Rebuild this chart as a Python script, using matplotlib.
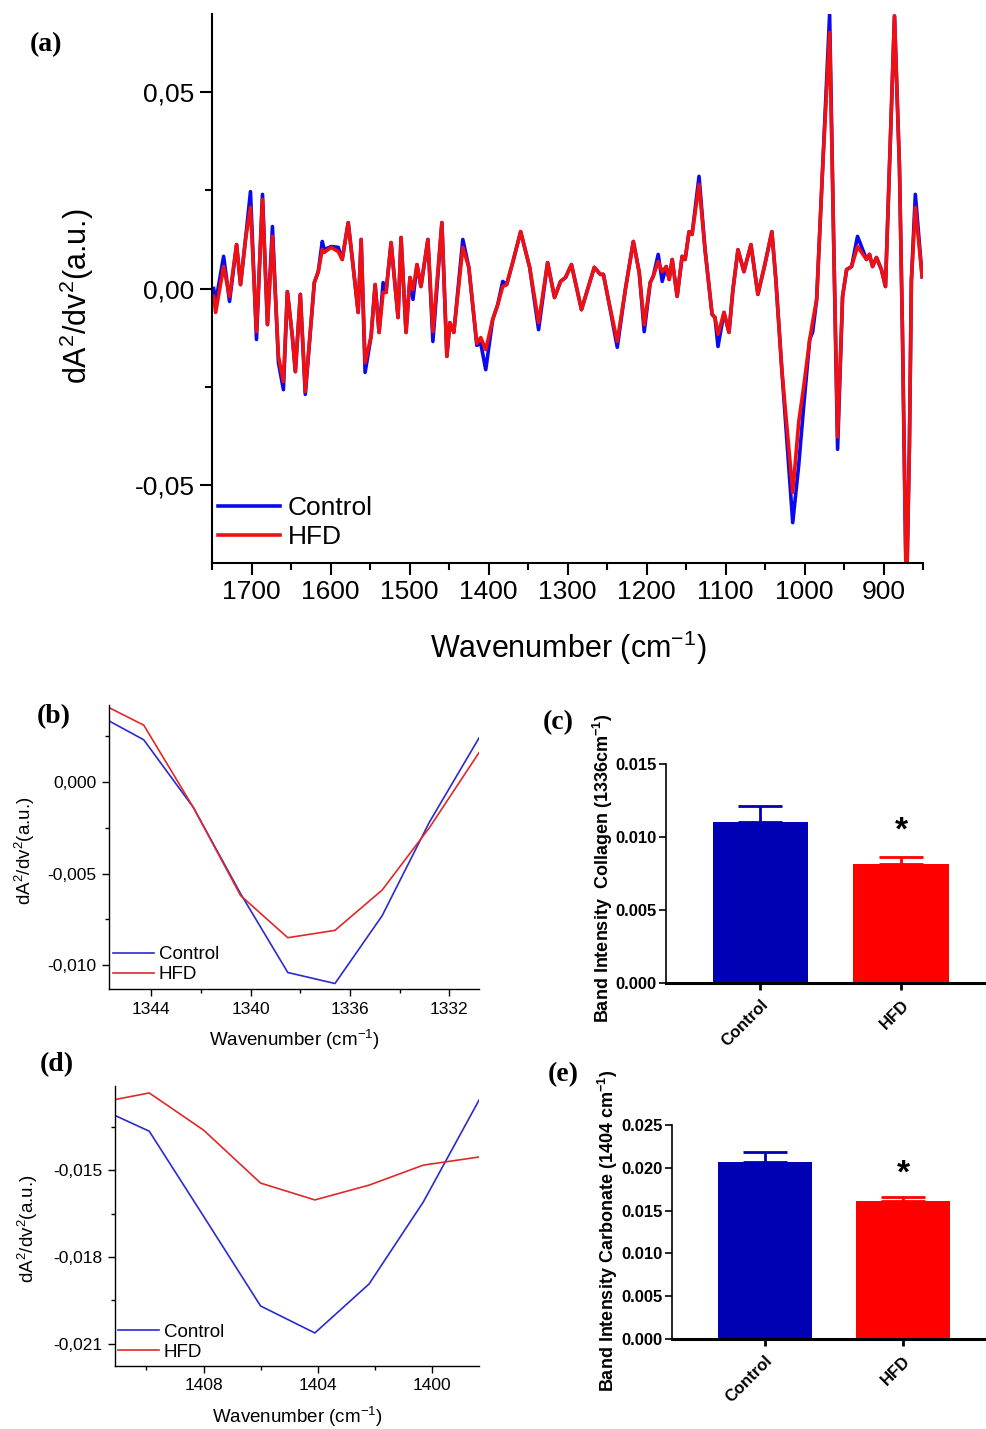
import matplotlib
matplotlib.use("Agg")
import matplotlib.pyplot as plt
import numpy as np

plt.rcParams['font.family'] = ['Liberation Sans', 'DejaVu Sans']
plt.rcParams['mathtext.default'] = 'regular'

# ---- (a) full second-derivative spectrum ----
wn_full = [1747.9, 1745.4, 1735.3, 1727.8, 1718.9, 1713.9, 1707.6, 1701.3, 1693.7, 1686.1,
           1679.8, 1673.5, 1665.9, 1659.6, 1654.6, 1648.3, 1644.5, 1638.2, 1631.9, 1620.5,
           1615.5, 1610.4, 1607.9, 1599.1, 1590.2, 1585.2, 1577.6, 1571.3, 1565.0, 1561.2,
           1556.2, 1548.6, 1543.5, 1538.5, 1533.4, 1529.7, 1523.3, 1514.5, 1510.7, 1504.4,
           1499.4, 1495.6, 1490.5, 1485.5, 1476.7, 1470.4, 1459.0, 1452.7, 1448.9, 1443.9,
           1432.5, 1424.9, 1414.8, 1409.8, 1403.5, 1394.7, 1388.3, 1382.0, 1377.0, 1369.4,
           1359.3, 1347.9, 1336.6, 1325.2, 1316.4, 1308.8, 1302.5, 1295.0, 1282.3, 1266.1,
           1258.5, 1254.6, 1248.3, 1237.0, 1226.8, 1216.7, 1209.2, 1202.9, 1195.3, 1191.5,
           1185.2, 1180.1, 1175.1, 1171.3, 1167.5, 1161.2, 1154.9, 1151.1, 1146.1, 1142.3,
           1133.5, 1125.9, 1117.0, 1113.3, 1109.5, 1101.9, 1095.6, 1090.6, 1084.2, 1076.7,
           1067.8, 1059.0, 1050.2, 1041.3, 1036.3, 1028.7, 1014.9, 1007.3, 1001.0, 993.4,
           989.6, 984.6, 977.0, 968.2, 963.1, 958.1, 951.8, 946.7, 940.4, 932.9,
           921.5, 917.7, 913.9, 908.9, 902.6, 897.5, 892.4, 886.1, 879.8, 876.0,
           871.0, 867.2, 864.7, 859.7, 851.1]
control_full = [0.0000, -0.0036, 0.0082, -0.0033, 0.0112, 0.0010, 0.0125, 0.0247, -0.0130, 0.0240,
                -0.0092, 0.0158, -0.0189, -0.0258, -0.0008, -0.0122, -0.0212, -0.0015, -0.0270, 0.0015,
                0.0043, 0.0120, 0.0099, 0.0107, 0.0105, 0.0074, 0.0168, 0.0056, -0.0061, 0.0125,
                -0.0214, -0.0122, 0.0010, -0.0112, 0.0015, -0.0010, 0.0117, -0.0074, 0.0130, -0.0112,
                0.0028, -0.0028, 0.0061, 0.0005, 0.0125, -0.0135, 0.0168, -0.0173, -0.0087, -0.0112,
                0.0125, 0.0054, -0.0145, -0.0140, -0.0207, -0.0079, -0.0041, 0.0018, 0.0010, 0.0066,
                0.0145, 0.0054, -0.0105, 0.0066, -0.0023, 0.0018, 0.0028, 0.0061, -0.0054, 0.0054,
                0.0036, 0.0036, -0.0028, -0.0150, -0.0003, 0.0120, 0.0041, -0.0110, 0.0015, 0.0031,
                0.0087, 0.0018, 0.0056, 0.0023, 0.0074, -0.0020, 0.0082, 0.0074, 0.0145, 0.0138,
                0.0286, 0.0099, -0.0066, -0.0074, -0.0148, -0.0061, -0.0112, -0.0003, 0.0099, 0.0043,
                0.0112, -0.0015, 0.0061, 0.0145, 0.0023, -0.0207, -0.0597, -0.0450, -0.0300, -0.0130,
                -0.0110, -0.0028, 0.0310, 0.0699, 0.0125, -0.0410, -0.0020, 0.0048, 0.0056, 0.0133,
                0.0074, 0.0087, 0.0056, 0.0079, 0.0048, 0.0005, 0.0310, 0.0695, 0.0310, -0.0112,
                -0.0800, -0.0400, 0.0020, 0.0240, 0.0030]
hfd_full = [-0.0020, -0.0061, 0.0056, -0.0020, 0.0112, 0.0010, 0.0125, 0.0207, -0.0110, 0.0227,
            -0.0092, 0.0133, -0.0173, -0.0237, -0.0008, -0.0122, -0.0212, -0.0015, -0.0263, 0.0015,
            0.0043, 0.0099, 0.0092, 0.0105, 0.0094, 0.0074, 0.0168, 0.0056, -0.0061, 0.0125,
            -0.0189, -0.0122, 0.0010, -0.0112, -0.0010, -0.0010, 0.0117, -0.0074, 0.0130, -0.0112,
            0.0028, -0.0003, 0.0061, 0.0005, 0.0125, -0.0110, 0.0168, -0.0173, -0.0087, -0.0112,
            0.0105, 0.0054, -0.0140, -0.0125, -0.0156, -0.0079, -0.0041, 0.0005, 0.0010, 0.0066,
            0.0145, 0.0054, -0.0087, 0.0066, -0.0023, 0.0018, 0.0028, 0.0061, -0.0054, 0.0054,
            0.0036, 0.0036, -0.0028, -0.0135, -0.0003, 0.0120, 0.0041, -0.0092, 0.0015, 0.0031,
            0.0069, 0.0043, 0.0056, 0.0023, 0.0074, -0.0020, 0.0082, 0.0074, 0.0145, 0.0138,
            0.0265, 0.0099, -0.0066, -0.0074, -0.0117, -0.0061, -0.0112, -0.0003, 0.0099, 0.0043,
            0.0112, -0.0015, 0.0061, 0.0145, 0.0023, -0.0207, -0.0520, -0.0340, -0.0250, -0.0130,
            -0.0084, -0.0028, 0.0310, 0.0653, 0.0125, -0.0378, -0.0020, 0.0048, 0.0056, 0.0107,
            0.0074, 0.0087, 0.0056, 0.0079, 0.0048, 0.0005, 0.0310, 0.0695, 0.0310, -0.0112,
            -0.0800, -0.0400, 0.0020, 0.0207, 0.0030]

# ---- (b) zoom around 1336 cm-1 ----
wn_b = [1346.2, 1344.3, 1342.3, 1340.4, 1338.5, 1336.6, 1334.7, 1332.8, 1330.8]
control_b = [0.0037, 0.0023, -0.0014, -0.0061, -0.0104, -0.0110, -0.0073, -0.0022, 0.0024]
hfd_b = [0.0044, 0.0031, -0.0014, -0.0062, -0.0085, -0.0081, -0.0059, -0.0025, 0.0016]

# ---- (d) zoom around 1404 cm-1 ----
wn_d = [1411.8, 1409.9, 1408.0, 1406.0, 1404.1, 1402.2, 1400.3, 1398.35]
control_d = [-0.0128, -0.01366, -0.01659, -0.01969, -0.02062, -0.01893, -0.0161, -0.01259]
hfd_d = [-0.0127, -0.01234, -0.01362, -0.01545, -0.01603, -0.01552, -0.01483, -0.01455]

# ---- (c), (e) band intensities ----
groups = ['Control', 'HFD']
collagen_mean = [0.0110, 0.00815]
collagen_err = [0.0011, 0.0005]
carbonate_mean = [0.0207, 0.0161]
carbonate_err = [0.0011, 0.0005]

a_xticks = [1700, 1600, 1500, 1400, 1300, 1200, 1100, 1000, 900]
a_yticks = [-0.05, 0.0, 0.05]
a_yticklabels = ['-0,05', '0,00', '0,05']
b_xticks = [1344, 1340, 1336, 1332]
b_yticks = [-0.010, -0.005, 0.0]
b_yticklabels = ['-0,010', '-0,005', '0,000']
d_xticks = [1408, 1404, 1400]
d_yticks = [-0.021, -0.018, -0.015]
d_yticklabels = ['-0,021', '-0,018', '-0,015']
c_yticks = [0.0, 0.005, 0.010, 0.015]
c_yticklabels = ['0.000', '0.005', '0.010', '0.015']
e_yticks = [0.0, 0.005, 0.010, 0.015, 0.020, 0.025]
e_yticklabels = ['0.000', '0.005', '0.010', '0.015', '0.020', '0.025']

BLUE = '#0a0af0'
RED = '#f01010'
BLUE_THIN = '#2a2ad0'
RED_THIN = '#e02828'
BAR_BLUE = '#0000b4'
BAR_RED = '#ff0000'

W, H = 986, 1429
fig = plt.figure(figsize=(W / 100, H / 100), dpi=100)


def box(left, top, right, bottom):
    return [left / W, 1 - bottom / H, (right - left) / W, (bottom - top) / H]


def ftext(x, y, s, **kw):
    fig.text(x / W, 1 - y / H, s, **kw)


def line_style(ax, lw, major, minor, size):
    for side in ('top', 'right'):
        ax.spines[side].set_visible(False)
    for side in ('left', 'bottom'):
        ax.spines[side].set_linewidth(lw)
    ax.tick_params(which='major', direction='out', length=major, width=lw, labelsize=size, pad=4)
    ax.tick_params(which='minor', direction='out', length=minor, width=lw)


# (a)
ax = fig.add_axes(box(212, 14, 923, 563))
ax.plot(wn_full, control_full, color=BLUE, lw=2.6, label='Control')
ax.plot(wn_full, hfd_full, color=RED, lw=2.6, label='HFD')
ax.set_xlim(1750, 850)
ax.set_ylim(-0.07, 0.07)
ax.set_xticks(a_xticks)
ax.set_xticks(np.arange(1750, 849, -50), minor=True)
ax.set_yticks(a_yticks)
ax.set_yticklabels(a_yticklabels)
ax.set_yticks([-0.025, 0.025], minor=True)
line_style(ax, 1.5, 8.5, 5, 19)
ax.legend(loc='lower left', bbox_to_anchor=(0.008, 0.025), frameon=False, fontsize=19,
          handlelength=2.35, handletextpad=0.3, labelspacing=0.2, borderaxespad=0, borderpad=0)
ftext(568, 648, 'Wavenumber (cm$^{-1}$)', ha='center', va='center', fontsize=22)
ftext(77, 296, 'dA$^2$/dv$^2$(a.u.)', ha='center', va='center', rotation=90, fontsize=22)

# (b)
ax = fig.add_axes(box(109, 705, 479, 989))
ax.plot(wn_b, control_b, color=BLUE_THIN, lw=1.2, label='Control')
ax.plot(wn_b, hfd_b, color=RED_THIN, lw=1.2, label='HFD')
ax.set_xlim(1345.7, 1330.8)
ax.set_ylim(-0.0113, 0.0042)
ax.set_xticks(b_xticks)
ax.set_xticks([1342, 1338, 1334], minor=True)
ax.set_yticks(b_yticks)
ax.set_yticklabels(b_yticklabels)
ax.set_yticks([-0.0075, -0.0025, 0.0025], minor=True)
line_style(ax, 1.0, 5, 3, 12.5)
ax.legend(loc='lower left', bbox_to_anchor=(0.01, 0.02), frameon=False, fontsize=13.5,
          handlelength=2.2, handletextpad=0.25, labelspacing=0.15, borderaxespad=0, borderpad=0)
ftext(294, 1040, 'Wavenumber (cm$^{-1}$)', ha='center', va='center', fontsize=13.5)
ftext(25, 851, 'dA$^2$/dv$^2$(a.u.)', ha='center', va='center', rotation=90, fontsize=13.5)

# (d)
ax = fig.add_axes(box(115, 1086, 479, 1366))
ax.plot(wn_d, control_d, color=BLUE_THIN, lw=1.2, label='Control')
ax.plot(wn_d, hfd_d, color=RED_THIN, lw=1.2, label='HFD')
ax.set_xlim(1411.1, 1398.35)
ax.set_ylim(-0.02176, -0.0121)
ax.set_xticks(d_xticks)
ax.set_xticks([1410, 1406, 1402], minor=True)
ax.set_yticks(d_yticks)
ax.set_yticklabels(d_yticklabels)
ax.set_yticks([-0.0195, -0.0165, -0.0135], minor=True)
line_style(ax, 1.0, 5, 3, 12.5)
ax.legend(loc='lower left', bbox_to_anchor=(0.008, 0.018), frameon=False, fontsize=13.5,
          handlelength=2.2, handletextpad=0.25, labelspacing=0.15, borderaxespad=0, borderpad=0)
ftext(297, 1417, 'Wavenumber (cm$^{-1}$)', ha='center', va='center', fontsize=13.5)
ftext(28, 1229, 'dA$^2$/dv$^2$(a.u.)', ha='center', va='center', rotation=90, fontsize=13.5)


def bar_panel(rect, means, errs, yticks, yticklabels, ymax, star_gap, ylabel, label_xy):
    ax = fig.add_axes(rect)
    x = np.arange(len(groups))
    colors = [BAR_BLUE, BAR_RED]
    ax.bar(x, means, width=0.68, color=colors, zorder=2)
    for xi, m, e, c in zip(x, means, errs, colors):
        ax.errorbar([xi], [m], yerr=[[0], [e]], fmt='none', ecolor=c, elinewidth=2,
                    capsize=16, capthick=2, zorder=3)
    ax.text(x[1], means[1] + errs[1] + star_gap, '*', ha='center', va='bottom',
            fontsize=24, fontweight='bold')
    ax.set_xlim(-0.67, 1.6)
    ax.set_ylim(0, ymax)
    ax.set_yticks(yticks)
    ax.set_yticklabels(yticklabels, fontweight='bold')
    ax.set_xticks(x)
    ax.set_xticklabels(groups, rotation=45, ha='right', va='top', rotation_mode='anchor',
                       fontweight='bold', fontsize=12)
    for side in ('top', 'right'):
        ax.spines[side].set_visible(False)
    ax.spines['left'].set_linewidth(1.2)
    ax.spines['bottom'].set_linewidth(2.2)
    ax.tick_params(axis='y', direction='out', length=5, width=1.2, labelsize=12, pad=2)
    ax.tick_params(axis='x', direction='out', length=5, width=2, pad=5)
    ftext(label_xy[0], label_xy[1], ylabel, ha='center', va='center', rotation=90,
          fontsize=13, fontweight='bold')
    return ax


bar_panel(box(666, 764, 986, 983), collagen_mean, collagen_err, c_yticks, c_yticklabels,
          0.015, 0.0007, 'Band Intensity  Collagen (1336cm$^{-1}$)', (603, 868))
bar_panel(box(672, 1125, 986, 1339), carbonate_mean, carbonate_err, e_yticks, e_yticklabels,
          0.025, 0.0009, 'Band Intensity Carbonate (1404 cm$^{-1}$)', (608, 1231))

# panel letters
for s, px, py in [('(a)', 46, 45), ('(b)', 54, 717), ('(c)', 558, 723),
                  ('(d)', 57, 1065), ('(e)', 563, 1075)]:
    ftext(px, py, s, ha='center', va='center', fontsize=20, fontweight='bold',
          family='Liberation Serif')

fig.savefig('out.png', dpi=100)
